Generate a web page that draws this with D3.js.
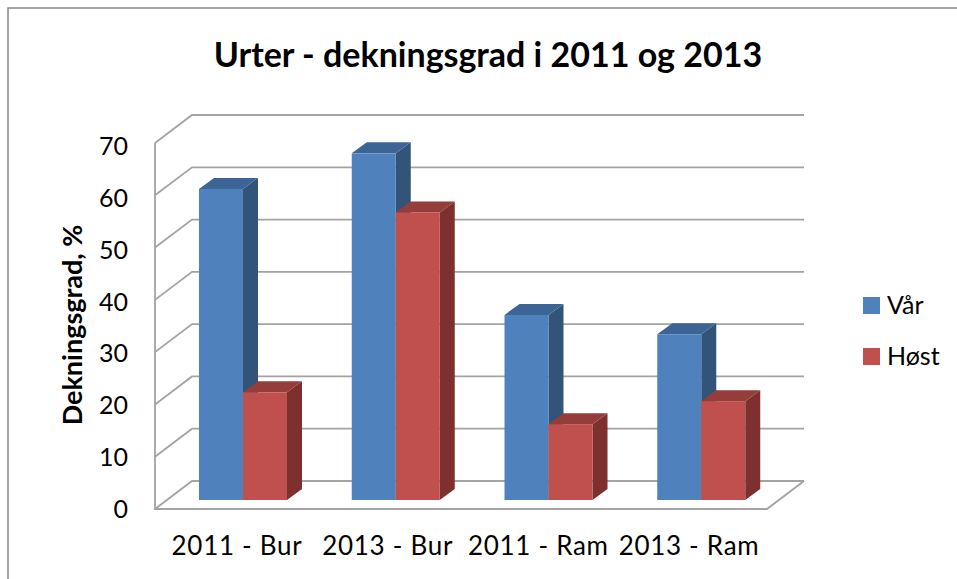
<!DOCTYPE html>
<html>
<head>
<meta charset="utf-8">
<script src="https://cdn.jsdelivr.net/npm/d3@7"></script>
<style>
html,body{margin:0;padding:0;background:#fff;}
svg{display:block;}
text{font-family:Lato,sans-serif;fill:#000;}
</style>
</head>
<body>
<svg id="chart" width="957" height="579"></svg>
<script>
var categories = ["2011 - Bur","2013 - Bur","2011 - Ram","2013 - Ram"];
var seriesNames = ["Vår","Høst"];
var varValues = [59.5,66.3,35.4,31.7];
var hostValues = [20.6,55,14.5,18.9];
var yTicks = [0,10,20,30,40,50,60,70];

var seriesColors = [
    {front:"#4f81bd",top:"#3c6596",side:"#325478"},
    {front:"#c0504d",top:"#943d3b",side:"#7d302e"}
];
var GRID = "#a3a3a3";

var svg = d3.select("#chart");

// 3d offset of the back wall / of a bar
var DX = 37, DY = 28, BAR_DX = 15, BAR_DY = 11;
var x0 = d3.scaleBand().domain(categories).range([155,766]);
var x1 = d3.scaleBand().domain(seriesNames).range([44,132]);
var xLabel = d3.scalePoint().domain(categories).range([237,689]);
var y = d3.scaleLinear().domain([0,70]).range([509,143]);
var yLabel = d3.scaleLinear().domain([0,70]).range([518,155]);
var BAR_BASE = 500;
var barH = function(v){ return y(0)-y(v); };

// outer frame, the right side is cut off
svg.append("path")
    .attr("d","M8,579V8H957")
    .attr("fill","none").attr("stroke","#868686").attr("stroke-width",1.5);

var grid = svg.append("g").attr("fill","none").attr("stroke",GRID).attr("stroke-width",1.8);

// gridlines run up the side wall then along the back wall
yTicks.forEach(function(t){
    grid.append("path")
        .attr("d",d3.line()([[155,y(t)],[155+DX,y(t)-DY],[767+DX,y(t)-DY]]));
});
grid.append("path").attr("d",d3.line()([[155,y(70)],[155,y(0)],[767,y(0)],[767+DX,y(0)-DY]]));

// bars
var data = categories.map(function(c,i){ return {cat:c,vals:[varValues[i],hostValues[i]]}; });
var groups = svg.selectAll("g.cat").data(data).enter().append("g").attr("class","cat");

groups.each(function(d){
    var g = d3.select(this);
    seriesNames.forEach(function(s,i){
        var left = x0(d.cat)+x1(s);
        var w = x1.bandwidth();
        var top = BAR_BASE-barH(d.vals[i]);
        var c = seriesColors[i];
        g.append("path").attr("fill",c.side)
            .attr("d",d3.line()([[left+w,top],[left+w+BAR_DX,top-BAR_DY],[left+w+BAR_DX,BAR_BASE-BAR_DY],[left+w,BAR_BASE]])+"Z");
        g.append("path").attr("fill",c.top)
            .attr("d",d3.line()([[left,top],[left+BAR_DX,top-BAR_DY],[left+w+BAR_DX,top-BAR_DY],[left+w,top]])+"Z");
        g.append("rect").attr("fill",c.front)
            .attr("x",left).attr("y",top).attr("width",w).attr("height",barH(d.vals[i]));
    });
});

// y labels
svg.selectAll("text.ytick").data(yTicks).enter().append("text")
    .attr("class","ytick")
    .attr("x",128).attr("y",function(d){ return yLabel(d); })
    .attr("text-anchor","end").attr("font-size",25)
    .text(function(d){ return d; });

// x labels
svg.selectAll("text.xlab").data(categories).enter().append("text")
    .attr("class","xlab")
    .attr("x",function(d){ return xLabel(d); }).attr("y",555)
    .attr("text-anchor","middle").attr("font-size",26).attr("letter-spacing",0.7)
    .text(function(d){ return d; });

// titles
svg.append("text").attr("x",488).attr("y",67).attr("text-anchor","middle")
    .attr("font-size",34).attr("font-weight","bold")
    .text("Urter - dekningsgrad i 2011 og 2013");
svg.append("text").attr("transform","translate(82,325) rotate(-90)")
    .attr("text-anchor","middle").attr("font-size",27).attr("font-weight","bold")
    .text("Dekningsgrad, %");

// legend
var legendY = d3.scalePoint().domain(seriesNames).range([305.5,356.5]);
seriesNames.forEach(function(s,i){
    svg.append("rect").attr("x",863).attr("y",legendY(s)-8.5).attr("width",17).attr("height",17)
        .attr("fill",seriesColors[i].front);
    svg.append("text").attr("x",887).attr("y",legendY(s)+8.5).attr("font-size",25).text(s);
});
</script>
</body>
</html>
